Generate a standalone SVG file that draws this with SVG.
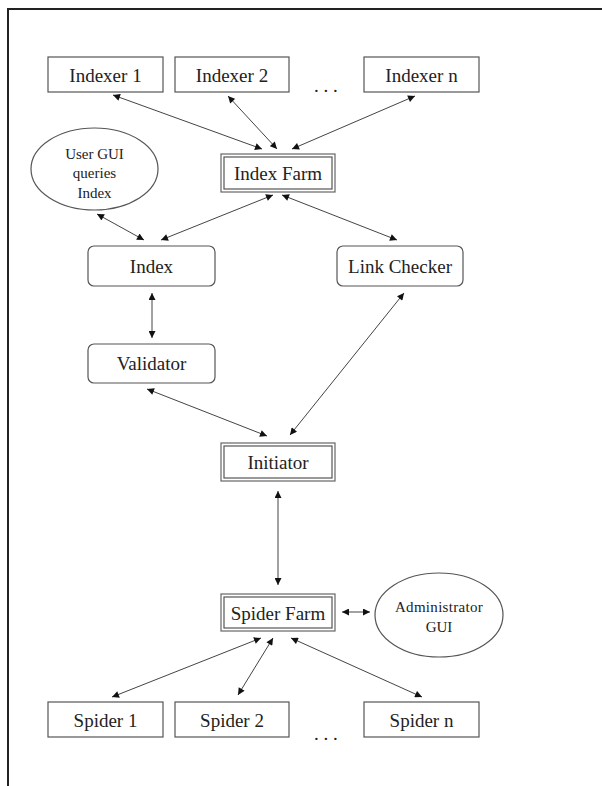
<svg xmlns="http://www.w3.org/2000/svg" width="602" height="786" viewBox="0 0 602 786">
<defs>
<marker id="ah" viewBox="0 0 10 10" refX="10" refY="5" markerWidth="8" markerHeight="7" markerUnits="userSpaceOnUse" orient="auto-start-reverse">
<path d="M0,0 L10,5 L0,10 z" fill="#111"/>
</marker>
<style>
.box{fill:#fff;stroke:#555;stroke-width:1.2}
.dbl{fill:none;stroke:#666;stroke-width:1.2}
.t{font-family:"Liberation Serif","Times New Roman",serif;font-size:19px;fill:#222;text-anchor:middle}
.s{font-family:"Liberation Serif","Times New Roman",serif;font-size:15px;fill:#222;text-anchor:middle}
.c{fill:none;stroke:#444;stroke-width:1;marker-start:url(#ah);marker-end:url(#ah)}
.dots{font-family:"Liberation Serif",serif;font-size:19px;fill:#222}
</style>
</defs>
<rect width="602" height="786" fill="#fff"/>
<path d="M8 786 V9 H602" fill="none" stroke="#222" stroke-width="2"/>

<g id="indexer1"><rect class="box" x="48" y="57" width="115" height="35"/><text class="t" x="105.5" y="82">Indexer 1</text></g>
<g id="indexer2"><rect class="box" x="175" y="57" width="114" height="35"/><text class="t" x="232" y="82">Indexer 2</text></g>
<text class="dots" x="314" y="92">. . .</text>
<g id="indexern"><rect class="box" x="364" y="57" width="115" height="35"/><text class="t" x="421.5" y="82">Indexer n</text></g>

<g id="indexfarm"><rect class="dbl" x="221" y="154" width="114" height="38"/><rect class="box" x="224" y="157" width="108" height="32"/><text class="t" x="278" y="180">Index Farm</text></g>

<g id="usergui"><ellipse class="box" cx="94.5" cy="169" rx="63.5" ry="41"/><text class="s" x="94.5" y="159">User GUI</text><text class="s" x="94.5" y="178">queries</text><text class="s" x="94.5" y="198">Index</text></g>

<g id="index"><rect class="box" x="88" y="246" width="127" height="40" rx="6"/><text class="t" x="151.5" y="273">Index</text></g>
<g id="linkchecker"><rect class="box" x="337" y="246" width="126" height="40" rx="6"/><text class="t" x="400" y="273">Link Checker</text></g>
<g id="validator"><rect class="box" x="88" y="344" width="127" height="39" rx="6"/><text class="t" x="151.5" y="370">Validator</text></g>

<g id="initiator"><rect class="dbl" x="221" y="443" width="114" height="38"/><rect class="box" x="224" y="446" width="108" height="32"/><text class="t" x="278" y="469">Initiator</text></g>

<g id="spiderfarm"><rect class="dbl" x="221" y="594" width="114" height="37"/><rect class="box" x="224" y="597" width="108" height="31"/><text class="t" x="278" y="620">Spider Farm</text></g>

<g id="admingui"><ellipse class="box" cx="439" cy="615" rx="64" ry="42"/><text class="s" x="439" y="612" letter-spacing="0.3">Administrator</text><text class="s" x="439" y="632">GUI</text></g>

<g id="spider1"><rect class="box" x="48" y="702" width="115" height="35"/><text class="t" x="105.5" y="727">Spider 1</text></g>
<g id="spider2"><rect class="box" x="175" y="702" width="114" height="35"/><text class="t" x="232" y="727">Spider 2</text></g>
<text class="dots" x="314" y="740">. . .</text>
<g id="spidern"><rect class="box" x="364" y="702" width="115" height="35"/><text class="t" x="421.5" y="727">Spider n</text></g>

<g id="connectors">
<line class="c" x1="113" y1="95" x2="262" y2="149"/>
<line class="c" x1="228" y1="96" x2="277" y2="149"/>
<line class="c" x1="415" y1="96" x2="292" y2="149"/>
<line class="c" x1="97" y1="214" x2="144" y2="240"/>
<line class="c" x1="161" y1="240" x2="273" y2="195"/>
<line class="c" x1="282" y1="195" x2="397" y2="240"/>
<line class="c" x1="152" y1="293" x2="152" y2="338"/>
<line class="c" x1="147" y1="389" x2="267" y2="436"/>
<line class="c" x1="404" y1="293" x2="290" y2="435"/>
<line class="c" x1="278" y1="491" x2="278" y2="585"/>
<line class="c" x1="342" y1="612" x2="370" y2="612"/>
<line class="c" x1="261" y1="638" x2="112" y2="697"/>
<line class="c" x1="273" y1="638" x2="238" y2="695"/>
<line class="c" x1="291" y1="638" x2="422" y2="697"/>
</g>
</svg>
